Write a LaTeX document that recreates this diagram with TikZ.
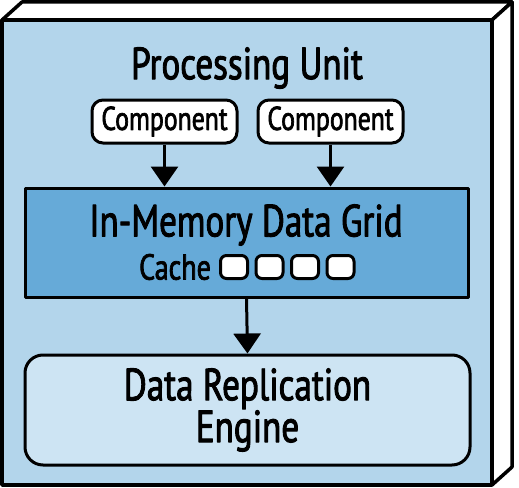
\documentclass[tikz,border=0pt]{standalone}
\usepackage{fontspec}
\setmainfont[FakeStretch=0.78, FakeBold=2]{PT Sans}
\usepackage{tikz}
\usetikzlibrary{positioning,arrows.meta}
\definecolor{unitblue}{HTML}{B3D5EB}
\definecolor{gridblue}{HTML}{66AAD8}
\definecolor{engineblue}{HTML}{CDE4F3}
\tikzset{
  bigtext/.style={font=\fontsize{45}{40}\selectfont},
  comp/.style={draw, line width=3pt, fill=white, rounded corners=11pt,
    minimum width=145pt, minimum height=43pt, inner sep=0pt,
    font=\fontsize{33}{35}\selectfont},
  slot/.style={draw, line width=3pt, fill=white, rounded corners=6pt,
    minimum width=27pt, minimum height=23pt, inner sep=0pt},
  flow/.style={line width=3pt, -{Triangle[length=20pt,width=27pt]}}
}

\begin{document}
\begin{tikzpicture}[x=1pt, y=-1pt, line join=round]
    \useasboundingbox (0,0) rectangle (519,487);

    % the unit as a box
    \draw [line width=3.5pt, fill=white] (2,20) -- (22,2) -- (512,2) -- (492,20) -- cycle;
    \draw [line width=3.5pt, fill=white] (492,20) -- (512,2) -- (512,467) -- (492,485) -- cycle;
    \draw [line width=3.5pt, fill=unitblue] (2,20) rectangle (492,485);

    \node [bigtext] (unitlabel) at (247,68) {Processing Unit};

    \node [comp] (compa) at (164.5,121.5) {Component};
    \node [comp] (compb) at (330.5,121.5) {Component};

    \node [draw, line width=3pt, fill=gridblue, minimum width=443pt,
        minimum height=109pt] (grid) at (246.5,242.5) {};
    \node [bigtext] (gridlabel) at (246,225) {In-Memory Data Grid};
    \node [font=\fontsize{36}{38}\selectfont] (cachelabel) at (175,267) {Cache};
    \foreach \i in {0,...,3}
        \node [slot] (slot\i) at (234+35.5*\i,267) {};

    \node [draw, line width=3pt, fill=engineblue, rounded corners=18pt,
        minimum width=445pt, minimum height=110pt, align=center,
        bigtext] (engine) at (247.5,410) {Data Replication\\Engine};

    \draw [flow] (compa) -- (compa |- grid.north);
    \draw [flow] (compb) -- (compb |- grid.north);
    \draw [flow] (grid.south) -- (engine.north);
\end{tikzpicture}
\end{document}
